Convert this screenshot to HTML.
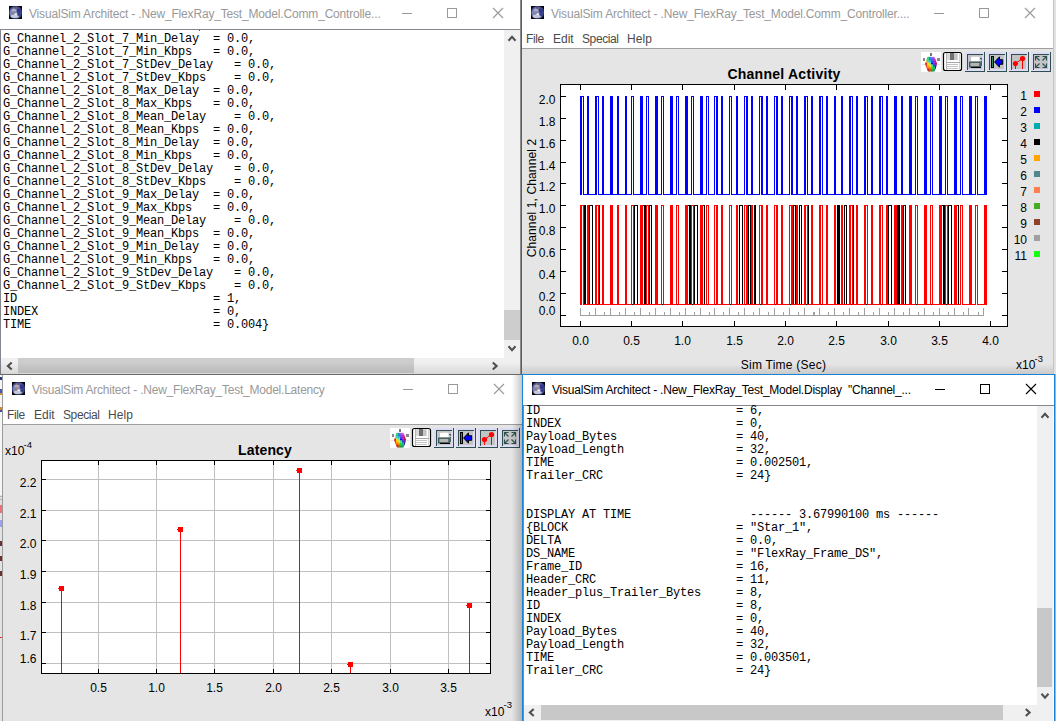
<!DOCTYPE html>
<html><head><meta charset="utf-8"><title>VisualSim</title>
<style>
html,body{margin:0;padding:0}
body{width:1056px;height:721px;overflow:hidden;position:relative;background:#e5e5e5;font-family:"Liberation Sans",sans-serif;}
.a{position:absolute}
.tt{position:absolute;font-size:12px;line-height:16px;white-space:pre;color:#999}
.mn{position:absolute;font-size:12px;line-height:16px;white-space:pre;color:#4a4a4a}
pre{position:absolute;margin:0;font-family:"Liberation Mono",monospace;font-size:12px;line-height:13px;letter-spacing:-0.2px;color:#000;white-space:pre;overflow:hidden}
svg{position:absolute;left:0;top:0}
svg text{font-family:"Liberation Sans",sans-serif;font-size:12px;fill:#000}
</style></head><body>

<div class="a" style="left:0px;top:375px;width:3px;height:120px;background:#f6f6f6;"></div>
<div class="a" style="left:0px;top:495px;width:3px;height:226px;background:#e2e2e2;"></div>
<div class="a" style="left:2px;top:375px;width:1px;height:346px;background:#9a9a9a;"></div>
<div class="a" style="left:0px;top:377px;width:2px;height:3px;background:#223a8a;"></div>
<div class="a" style="left:0px;top:389px;width:2px;height:4px;background:#4458b0;"></div>
<div class="a" style="left:0px;top:393px;width:2px;height:2px;background:#d89030;"></div>
<div class="a" style="left:0px;top:407px;width:2px;height:3px;background:#d08828;"></div>
<div class="a" style="left:0px;top:410px;width:2px;height:2px;background:#3a50a8;"></div>
<div class="a" style="left:0px;top:496px;width:2px;height:1px;background:#b0b0b0;"></div>
<div class="a" style="left:0px;top:499px;width:2px;height:1px;background:#b0b0b0;"></div>
<div class="a" style="left:0px;top:505px;width:2px;height:8px;background:#ee7070;"></div>
<div class="a" style="left:0px;top:520px;width:2px;height:7px;background:#9aa0f4;"></div>
<div class="a" style="left:0px;top:541px;width:2px;height:5px;background:#6a3030;"></div>
<div class="a" style="left:0px;top:556px;width:2px;height:5px;background:#6a3030;"></div>
<div class="a" style="left:0px;top:571px;width:2px;height:5px;background:#6a3030;"></div>
<div class="a" style="left:0px;top:637px;width:2px;height:1px;background:#ff2020;"></div>
<div class="a" style="left:1053px;top:0px;width:1px;height:374px;background:#c4c4c4;"></div>
<div class="a" style="left:1054px;top:0px;width:2px;height:374px;background:#e2e2e2;"></div>
<div class="a" style="left:0px;top:0px;width:520px;height:29px;background:#fff;"></div>
<div class="a" style="left:0px;top:29px;width:520px;height:345px;background:#fff;"></div>
<div class="a" style="left:0px;top:29px;width:520px;height:1px;background:#828790;"></div>
<div class="a" style="left:0px;top:29px;width:1px;height:345px;background:#828790;"></div>
<div class="a" style="left:504px;top:30px;width:16px;height:328px;background:#f0f0f0;"></div>
<div class="a" style="left:504px;top:310px;width:16px;height:30px;background:#cdcdcd;"></div>
<div class="a" style="left:1px;top:358px;width:519px;height:16px;background:#f0f0f0;"></div>
<div class="a" style="left:18px;top:358px;width:396px;height:15px;background:#cdcdcd;"></div>
<div class="a" style="left:520px;top:0px;width:1px;height:375px;background:#8a8a8a;"></div>
<div class="a" style="left:521px;top:0px;width:1px;height:375px;background:#5c5c5c;"></div>
<div class="a" style="left:0px;top:374px;width:522px;height:1px;background:#6a6a6a;"></div>
<div class="a" style="left:522px;top:0px;width:531px;height:48px;background:#fff;"></div>
<div class="a" style="left:522px;top:48px;width:531px;height:1px;background:#a0a0a0;"></div>
<div class="a" style="left:522px;top:49px;width:531px;height:325px;background:#e5e5e5;"></div>
<div class="a" style="left:3px;top:375px;width:519px;height:49px;background:#fff;"></div>
<div class="a" style="left:3px;top:424px;width:519px;height:1px;background:#a0a0a0;"></div>
<div class="a" style="left:3px;top:425px;width:519px;height:296px;background:#e5e5e5;"></div>
<div class="a" style="left:522px;top:374px;width:533px;height:347px;background:#fff;"></div>
<div class="a" style="left:522px;top:374px;width:533px;height:1px;background:#1883d7;"></div>
<div class="a" style="left:522px;top:374px;width:1px;height:347px;background:#1883d7;"></div>
<div class="a" style="left:1054px;top:374px;width:1px;height:347px;background:#1883d7;"></div>
<div class="a" style="left:1055px;top:374px;width:1px;height:347px;background:#9fb4c8;"></div>
<div class="a" style="left:523px;top:405px;width:531px;height:1px;background:#828790;"></div>
<div class="a" style="left:523px;top:405px;width:1px;height:316px;background:#828790;"></div>
<div class="a" style="left:1037px;top:406px;width:16px;height:299px;background:#f0f0f0;"></div>
<div class="a" style="left:1037px;top:608px;width:15px;height:79px;background:#c8c8c8;"></div>
<div class="a" style="left:524px;top:705px;width:529px;height:16px;background:#f0f0f0;"></div>
<div class="a" style="left:541px;top:705px;width:462px;height:15px;background:#c8c8c8;"></div>
<div id="t1" class="tt" style="left:29px;top:6px;letter-spacing:-0.175px;">VisualSim Architect - .New_FlexRay_Test_Model.Comm_Controlle...</div>
<div id="t2" class="tt" style="left:551px;top:6px;letter-spacing:-0.167px;">VisualSim Architect - .New_FlexRay_Test_Model.Comm_Controller....</div>
<div id="t3" class="tt" style="left:32px;top:382px;letter-spacing:-0.226px;">VisualSim Architect - .New_FlexRay_Test_Model.Latency</div>
<div id="t4" class="tt" style="left:552px;top:382px;letter-spacing:-0.23px;color:#000">VisualSim Architect - .New_FlexRay_Test_Model.Display  "Channel_...</div>
<div id="m2a" class="mn" style="left:526px;top:31px;letter-spacing:-0.35px;">File</div>
<div id="m2b" class="mn" style="left:553px;top:31px;">Edit</div>
<div id="m2c" class="mn" style="left:582px;top:31px;letter-spacing:-0.4px;">Special</div>
<div id="m2d" class="mn" style="left:627px;top:31px;letter-spacing:0.05px;">Help</div>
<div id="m3a" class="mn" style="left:7px;top:407px;letter-spacing:-0.35px;">File</div>
<div id="m3b" class="mn" style="left:34px;top:407px;">Edit</div>
<div id="m3c" class="mn" style="left:63px;top:407px;letter-spacing:-0.4px;">Special</div>
<div id="m3d" class="mn" style="left:108px;top:407px;letter-spacing:0.05px;">Help</div>
<pre style="left:3px;top:33.3px;width:500px;height:326px">G_Channel_2_Slot_7_Min_Delay  = 0.0,
G_Channel_2_Slot_7_Min_Kbps   = 0.0,
G_Channel_2_Slot_7_StDev_Delay   = 0.0,
G_Channel_2_Slot_7_StDev_Kbps    = 0.0,
G_Channel_2_Slot_8_Max_Delay  = 0.0,
G_Channel_2_Slot_8_Max_Kbps   = 0.0,
G_Channel_2_Slot_8_Mean_Delay    = 0.0,
G_Channel_2_Slot_8_Mean_Kbps  = 0.0,
G_Channel_2_Slot_8_Min_Delay  = 0.0,
G_Channel_2_Slot_8_Min_Kbps   = 0.0,
G_Channel_2_Slot_8_StDev_Delay   = 0.0,
G_Channel_2_Slot_8_StDev_Kbps    = 0.0,
G_Channel_2_Slot_9_Max_Delay  = 0.0,
G_Channel_2_Slot_9_Max_Kbps   = 0.0,
G_Channel_2_Slot_9_Mean_Delay    = 0.0,
G_Channel_2_Slot_9_Mean_Kbps  = 0.0,
G_Channel_2_Slot_9_Min_Delay  = 0.0,
G_Channel_2_Slot_9_Min_Kbps   = 0.0,
G_Channel_2_Slot_9_StDev_Delay   = 0.0,
G_Channel_2_Slot_9_StDev_Kbps    = 0.0,
ID                            = 1,
INDEX                         = 0,
TIME                          = 0.004}</pre>
<div class="a" style="left:199px;top:30px;width:1px;height:1px;background:#555;"></div>
<pre style="left:526px;top:405.3px;width:510px;height:299px">ID                            = 6,
INDEX                         = 0,
Payload_Bytes                 = 40,
Payload_Length                = 32,
TIME                          = 0.002501,
Trailer_CRC                   = 24}


DISPLAY AT TIME                 ------ 3.67990100 ms ------
{BLOCK                        = "Star_1",
DELTA                         = 0.0,
DS_NAME                       = "FlexRay_Frame_DS",
Frame_ID                      = 16,
Header_CRC                    = 11,
Header_plus_Trailer_Bytes     = 8,
ID                            = 8,
INDEX                         = 0,
Payload_Bytes                 = 40,
Payload_Length                = 32,
TIME                          = 0.003501,
Trailer_CRC                   = 24}</pre>
<svg width="1056" height="721" viewBox="0 0 1056 721" shape-rendering="crispEdges">
<defs><radialGradient id="eg" cx="0.45" cy="0.45" r="0.6"><stop offset="0" stop-color="#5a64a8"/><stop offset="0.7" stop-color="#4a5298"/><stop offset="1" stop-color="#3a4284"/></radialGradient></defs>
<rect x="9" y="6" width="13" height="13" fill="#050508"/>
<g shape-rendering="auto"><rect x="9.2" y="6.2" width="12.6" height="12.6" rx="5.4" ry="5.4" fill="url(#eg)"/><ellipse cx="13.8" cy="13.2" rx="4" ry="4.6" fill="#a4aac2" opacity="0.55"/><ellipse cx="14.8" cy="16.3" rx="4.2" ry="1.8" fill="#cdd1dc" opacity="0.9"/><ellipse cx="14" cy="10.2" rx="2.8" ry="1.2" fill="#b4b8cc" opacity="0.75"/><ellipse cx="15.8" cy="14.2" rx="1.3" ry="0.9" fill="#f4f6fa"/><ellipse cx="18.8" cy="10.8" rx="2.2" ry="2.2" fill="#2a3080" opacity="0.8"/><ellipse cx="19" cy="14.6" rx="1.8" ry="1.6" fill="#2e3688" opacity="0.7"/><circle cx="13.4" cy="8.2" r="0.8" fill="#c88850" opacity="0.9"/><circle cx="16.4" cy="8" r="0.6" fill="#b06858" opacity="0.9"/><circle cx="13.4" cy="12.4" r="0.8" fill="#d07838" opacity="0.9"/></g>
<rect x="531" y="6" width="13" height="13" fill="#050508"/>
<g shape-rendering="auto"><rect x="531.2" y="6.2" width="12.6" height="12.6" rx="5.4" ry="5.4" fill="url(#eg)"/><ellipse cx="535.8" cy="13.2" rx="4" ry="4.6" fill="#a4aac2" opacity="0.55"/><ellipse cx="536.8" cy="16.3" rx="4.2" ry="1.8" fill="#cdd1dc" opacity="0.9"/><ellipse cx="536" cy="10.2" rx="2.8" ry="1.2" fill="#b4b8cc" opacity="0.75"/><ellipse cx="537.8" cy="14.2" rx="1.3" ry="0.9" fill="#f4f6fa"/><ellipse cx="540.8" cy="10.8" rx="2.2" ry="2.2" fill="#2a3080" opacity="0.8"/><ellipse cx="541" cy="14.6" rx="1.8" ry="1.6" fill="#2e3688" opacity="0.7"/><circle cx="535.4" cy="8.2" r="0.8" fill="#c88850" opacity="0.9"/><circle cx="538.4" cy="8" r="0.6" fill="#b06858" opacity="0.9"/><circle cx="535.4" cy="12.4" r="0.8" fill="#d07838" opacity="0.9"/></g>
<rect x="12" y="382" width="13" height="13" fill="#050508"/>
<g shape-rendering="auto"><rect x="12.2" y="382.2" width="12.6" height="12.6" rx="5.4" ry="5.4" fill="url(#eg)"/><ellipse cx="16.8" cy="389.2" rx="4" ry="4.6" fill="#a4aac2" opacity="0.55"/><ellipse cx="17.8" cy="392.3" rx="4.2" ry="1.8" fill="#cdd1dc" opacity="0.9"/><ellipse cx="17" cy="386.2" rx="2.8" ry="1.2" fill="#b4b8cc" opacity="0.75"/><ellipse cx="18.8" cy="390.2" rx="1.3" ry="0.9" fill="#f4f6fa"/><ellipse cx="21.8" cy="386.8" rx="2.2" ry="2.2" fill="#2a3080" opacity="0.8"/><ellipse cx="22" cy="390.6" rx="1.8" ry="1.6" fill="#2e3688" opacity="0.7"/><circle cx="16.4" cy="384.2" r="0.8" fill="#c88850" opacity="0.9"/><circle cx="19.4" cy="384" r="0.6" fill="#b06858" opacity="0.9"/><circle cx="16.4" cy="388.4" r="0.8" fill="#d07838" opacity="0.9"/></g>
<rect x="532" y="382" width="13" height="13" fill="#050508"/>
<g shape-rendering="auto"><rect x="532.2" y="382.2" width="12.6" height="12.6" rx="5.4" ry="5.4" fill="url(#eg)"/><ellipse cx="536.8" cy="389.2" rx="4" ry="4.6" fill="#a4aac2" opacity="0.55"/><ellipse cx="537.8" cy="392.3" rx="4.2" ry="1.8" fill="#cdd1dc" opacity="0.9"/><ellipse cx="537" cy="386.2" rx="2.8" ry="1.2" fill="#b4b8cc" opacity="0.75"/><ellipse cx="538.8" cy="390.2" rx="1.3" ry="0.9" fill="#f4f6fa"/><ellipse cx="541.8" cy="386.8" rx="2.2" ry="2.2" fill="#2a3080" opacity="0.8"/><ellipse cx="542" cy="390.6" rx="1.8" ry="1.6" fill="#2e3688" opacity="0.7"/><circle cx="536.4" cy="384.2" r="0.8" fill="#c88850" opacity="0.9"/><circle cx="539.4" cy="384" r="0.6" fill="#b06858" opacity="0.9"/><circle cx="536.4" cy="388.4" r="0.8" fill="#d07838" opacity="0.9"/></g>
<rect x="402" y="13" width="10" height="1" fill="#999"/>
<rect x="447.5" y="8.5" width="9" height="9" fill="none" stroke="#999" stroke-width="1"/>
<path d="M493,8 l10,10 M503,8 l-10,10" stroke="#999" stroke-width="1.1" fill="none" shape-rendering="auto"/>
<rect x="934" y="13" width="10" height="1" fill="#999"/>
<rect x="979.5" y="8.5" width="9" height="9" fill="none" stroke="#999" stroke-width="1"/>
<path d="M1025,8 l10,10 M1035,8 l-10,10" stroke="#999" stroke-width="1.1" fill="none" shape-rendering="auto"/>
<rect x="403" y="389" width="10" height="1" fill="#999"/>
<rect x="448.5" y="384.5" width="9" height="9" fill="none" stroke="#999" stroke-width="1"/>
<path d="M494,384 l10,10 M504,384 l-10,10" stroke="#999" stroke-width="1.1" fill="none" shape-rendering="auto"/>
<rect x="935" y="389" width="10" height="1" fill="#000"/>
<rect x="980.5" y="384.5" width="9" height="9" fill="none" stroke="#000" stroke-width="1"/>
<path d="M1026,384 l10,10 M1036,384 l-10,10" stroke="#000" stroke-width="1.1" fill="none" shape-rendering="auto"/>
<path d="M508.5,40.7 L512,36.9 L515.5,40.7" stroke="#505050" stroke-width="2.1" fill="none" shape-rendering="auto"/>
<path d="M508.5,346.3 L512,350.1 L515.5,346.3" stroke="#505050" stroke-width="2.1" fill="none" shape-rendering="auto"/>
<path d="M11.7,362.5 L7.9,366 L11.7,369.5" stroke="#505050" stroke-width="2.1" fill="none" shape-rendering="auto"/>
<path d="M492.8,362.5 L496.6,366 L492.8,369.5" stroke="#505050" stroke-width="2.1" fill="none" shape-rendering="auto"/>
<path d="M1041.5,417.7 L1045,413.9 L1048.5,417.7" stroke="#505050" stroke-width="2.1" fill="none" shape-rendering="auto"/>
<path d="M1041.5,693.8 L1045,697.6 L1048.5,693.8" stroke="#505050" stroke-width="2.1" fill="none" shape-rendering="auto"/>
<path d="M533.7,709.0 L529.9,712.5 L533.7,716.0" stroke="#505050" stroke-width="2.1" fill="none" shape-rendering="auto"/>
<path d="M1025.8,709.0 L1029.6,712.5 L1025.8,716.0" stroke="#505050" stroke-width="2.1" fill="none" shape-rendering="auto"/>
<rect x="560" y="84" width="448" height="243" fill="#fff"/>
<rect x="560" y="84" width="448" height="1" fill="#000"/>
<rect x="560" y="326" width="448" height="1" fill="#000"/>
<rect x="560" y="84" width="1" height="243" fill="#000"/>
<rect x="1007" y="84" width="1" height="243" fill="#000"/>
<rect x="580" y="84" width="1" height="6" fill="#000"/>
<rect x="580" y="321" width="1" height="6" fill="#000"/>
<text x="580.5" y="344.5" text-anchor="middle">0.0</text>
<rect x="631" y="84" width="1" height="6" fill="#000"/>
<rect x="631" y="321" width="1" height="6" fill="#000"/>
<text x="631.5" y="344.5" text-anchor="middle">0.5</text>
<rect x="682" y="84" width="1" height="6" fill="#000"/>
<rect x="682" y="321" width="1" height="6" fill="#000"/>
<text x="682.5" y="344.5" text-anchor="middle">1.0</text>
<rect x="734" y="84" width="1" height="6" fill="#000"/>
<rect x="734" y="321" width="1" height="6" fill="#000"/>
<text x="734.5" y="344.5" text-anchor="middle">1.5</text>
<rect x="785" y="84" width="1" height="6" fill="#000"/>
<rect x="785" y="321" width="1" height="6" fill="#000"/>
<text x="785.5" y="344.5" text-anchor="middle">2.0</text>
<rect x="836" y="84" width="1" height="6" fill="#000"/>
<rect x="836" y="321" width="1" height="6" fill="#000"/>
<text x="836.5" y="344.5" text-anchor="middle">2.5</text>
<rect x="888" y="84" width="1" height="6" fill="#000"/>
<rect x="888" y="321" width="1" height="6" fill="#000"/>
<text x="888.5" y="344.5" text-anchor="middle">3.0</text>
<rect x="939" y="84" width="1" height="6" fill="#000"/>
<rect x="939" y="321" width="1" height="6" fill="#000"/>
<text x="939.5" y="344.5" text-anchor="middle">3.5</text>
<rect x="990" y="84" width="1" height="6" fill="#000"/>
<rect x="990" y="321" width="1" height="6" fill="#000"/>
<text x="990.5" y="344.5" text-anchor="middle">4.0</text>
<rect x="560" y="315" width="6" height="1" fill="#000"/>
<rect x="1002" y="315" width="6" height="1" fill="#000"/>
<text x="555.5" y="314.5" text-anchor="end">0.0</text>
<rect x="560" y="293" width="6" height="1" fill="#000"/>
<rect x="1002" y="293" width="6" height="1" fill="#000"/>
<text x="555.5" y="300.5" text-anchor="end">0.2</text>
<rect x="560" y="271" width="6" height="1" fill="#000"/>
<rect x="1002" y="271" width="6" height="1" fill="#000"/>
<text x="555.5" y="278.5" text-anchor="end">0.4</text>
<rect x="560" y="249" width="6" height="1" fill="#000"/>
<rect x="1002" y="249" width="6" height="1" fill="#000"/>
<text x="555.5" y="256.5" text-anchor="end">0.6</text>
<rect x="560" y="227" width="6" height="1" fill="#000"/>
<rect x="1002" y="227" width="6" height="1" fill="#000"/>
<text x="555.5" y="234.5" text-anchor="end">0.8</text>
<rect x="560" y="205" width="6" height="1" fill="#000"/>
<rect x="1002" y="205" width="6" height="1" fill="#000"/>
<text x="555.5" y="212.5" text-anchor="end">1.0</text>
<rect x="560" y="183" width="6" height="1" fill="#000"/>
<rect x="1002" y="183" width="6" height="1" fill="#000"/>
<text x="555.5" y="190.5" text-anchor="end">1.2</text>
<rect x="560" y="162" width="6" height="1" fill="#000"/>
<rect x="1002" y="162" width="6" height="1" fill="#000"/>
<text x="555.5" y="169.5" text-anchor="end">1.4</text>
<rect x="560" y="140" width="6" height="1" fill="#000"/>
<rect x="1002" y="140" width="6" height="1" fill="#000"/>
<text x="555.5" y="147.5" text-anchor="end">1.6</text>
<rect x="560" y="118" width="6" height="1" fill="#000"/>
<rect x="1002" y="118" width="6" height="1" fill="#000"/>
<text x="555.5" y="125.5" text-anchor="end">1.8</text>
<rect x="560" y="96" width="6" height="1" fill="#000"/>
<rect x="1002" y="96" width="6" height="1" fill="#000"/>
<text x="555.5" y="103.5" text-anchor="end">2.0</text>
<text x="784" y="79" text-anchor="middle" style="font-size:14px;font-weight:bold;letter-spacing:0.25px">Channel Activity</text>
<text x="783.5" y="369" text-anchor="middle" style="letter-spacing:0.25px">Sim Time (Sec)</text>
<text x="1016" y="369">x10</text><text x="1034.5" y="361.5" style="font-size:9.5px">-3</text>
<text transform="translate(535.5,198) rotate(-90)" text-anchor="middle" style="letter-spacing:0.13px">Channel 1, Channel 2</text>
<rect x="1034" y="91" width="6" height="6" fill="#ff0000"/>
<text x="1027" y="99.5" text-anchor="end">1</text>
<rect x="1034" y="107" width="6" height="6" fill="#0000ff"/>
<text x="1027" y="115.5" text-anchor="end">2</text>
<rect x="1034" y="123" width="6" height="6" fill="#00aaaa"/>
<text x="1027" y="131.5" text-anchor="end">3</text>
<rect x="1034" y="139" width="6" height="6" fill="#000000"/>
<text x="1027" y="147.5" text-anchor="end">4</text>
<rect x="1034" y="155" width="6" height="6" fill="#ffa500"/>
<text x="1027" y="163.5" text-anchor="end">5</text>
<rect x="1034" y="171" width="6" height="6" fill="#53868b"/>
<text x="1027" y="179.5" text-anchor="end">6</text>
<rect x="1034" y="187" width="6" height="6" fill="#ff7f50"/>
<text x="1027" y="195.5" text-anchor="end">7</text>
<rect x="1034" y="203" width="6" height="6" fill="#45ab1f"/>
<text x="1027" y="211.5" text-anchor="end">8</text>
<rect x="1034" y="219" width="6" height="6" fill="#90422d"/>
<text x="1027" y="227.5" text-anchor="end">9</text>
<rect x="1034" y="235" width="6" height="6" fill="#a0a0a0"/>
<text x="1027" y="243.5" text-anchor="end">10</text>
<rect x="1034" y="251" width="6" height="6" fill="#14ff14"/>
<text x="1027" y="259.5" text-anchor="end">11</text>
<rect x="584" y="304" width="375" height="1" fill="#000"/>
<rect x="584" y="205" width="2" height="1" fill="#000"/>
<rect x="584" y="205" width="1" height="100" fill="#000"/>
<rect x="585" y="205" width="1" height="100" fill="#000"/>
<rect x="589" y="205" width="4" height="1" fill="#000"/>
<rect x="589" y="205" width="1" height="100" fill="#000"/>
<rect x="592" y="205" width="1" height="100" fill="#000"/>
<rect x="598" y="205" width="2" height="1" fill="#000"/>
<rect x="599" y="205" width="1" height="100" fill="#000"/>
<rect x="634" y="205" width="4" height="1" fill="#000"/>
<rect x="634" y="205" width="1" height="100" fill="#000"/>
<rect x="637" y="205" width="1" height="100" fill="#000"/>
<rect x="643" y="205" width="3" height="1" fill="#000"/>
<rect x="644" y="205" width="1" height="100" fill="#000"/>
<rect x="645" y="205" width="1" height="100" fill="#000"/>
<rect x="649" y="205" width="3" height="1" fill="#000"/>
<rect x="649" y="205" width="1" height="100" fill="#000"/>
<rect x="651" y="205" width="1" height="100" fill="#000"/>
<rect x="688" y="205" width="3" height="1" fill="#000"/>
<rect x="689" y="205" width="1" height="100" fill="#000"/>
<rect x="690" y="205" width="1" height="100" fill="#000"/>
<rect x="694" y="205" width="4" height="1" fill="#000"/>
<rect x="694" y="205" width="1" height="100" fill="#000"/>
<rect x="697" y="205" width="1" height="100" fill="#000"/>
<rect x="703" y="205" width="2" height="1" fill="#000"/>
<rect x="704" y="205" width="1" height="100" fill="#000"/>
<rect x="739" y="205" width="4" height="1" fill="#000"/>
<rect x="739" y="205" width="1" height="100" fill="#000"/>
<rect x="742" y="205" width="1" height="100" fill="#000"/>
<rect x="748" y="205" width="3" height="1" fill="#000"/>
<rect x="748" y="205" width="1" height="100" fill="#000"/>
<rect x="750" y="205" width="1" height="100" fill="#000"/>
<rect x="754" y="205" width="2" height="1" fill="#000"/>
<rect x="754" y="205" width="1" height="100" fill="#000"/>
<rect x="755" y="205" width="1" height="100" fill="#000"/>
<rect x="793" y="205" width="3" height="1" fill="#000"/>
<rect x="793" y="205" width="1" height="100" fill="#000"/>
<rect x="795" y="205" width="1" height="100" fill="#000"/>
<rect x="799" y="205" width="3" height="1" fill="#000"/>
<rect x="799" y="205" width="1" height="100" fill="#000"/>
<rect x="801" y="205" width="1" height="100" fill="#000"/>
<rect x="807" y="205" width="2" height="1" fill="#000"/>
<rect x="808" y="205" width="1" height="100" fill="#000"/>
<rect x="837" y="205" width="3" height="1" fill="#000"/>
<rect x="837" y="205" width="1" height="100" fill="#000"/>
<rect x="838" y="205" width="1" height="100" fill="#000"/>
<rect x="839" y="205" width="1" height="100" fill="#000"/>
<rect x="844" y="205" width="3" height="1" fill="#000"/>
<rect x="844" y="205" width="1" height="100" fill="#000"/>
<rect x="846" y="205" width="1" height="100" fill="#000"/>
<rect x="852" y="205" width="2" height="1" fill="#000"/>
<rect x="853" y="205" width="1" height="100" fill="#000"/>
<rect x="888" y="205" width="4" height="1" fill="#000"/>
<rect x="888" y="205" width="1" height="100" fill="#000"/>
<rect x="891" y="205" width="1" height="100" fill="#000"/>
<rect x="897" y="205" width="3" height="1" fill="#000"/>
<rect x="897" y="205" width="1" height="100" fill="#000"/>
<rect x="898" y="205" width="1" height="100" fill="#000"/>
<rect x="899" y="205" width="1" height="100" fill="#000"/>
<rect x="903" y="205" width="3" height="1" fill="#000"/>
<rect x="903" y="205" width="1" height="100" fill="#000"/>
<rect x="905" y="205" width="1" height="100" fill="#000"/>
<rect x="942" y="205" width="3" height="1" fill="#000"/>
<rect x="943" y="205" width="1" height="100" fill="#000"/>
<rect x="944" y="205" width="1" height="100" fill="#000"/>
<rect x="948" y="205" width="4" height="1" fill="#000"/>
<rect x="948" y="205" width="1" height="100" fill="#000"/>
<rect x="951" y="205" width="1" height="100" fill="#000"/>
<rect x="957" y="205" width="2" height="1" fill="#000"/>
<rect x="958" y="205" width="1" height="100" fill="#000"/>
<rect x="580" y="304" width="2" height="1" fill="#ff0000"/>
<rect x="583" y="304" width="14" height="1" fill="#ff0000"/>
<rect x="598" y="304" width="34" height="1" fill="#ff0000"/>
<rect x="633" y="304" width="14" height="1" fill="#ff0000"/>
<rect x="648" y="304" width="14" height="1" fill="#ff0000"/>
<rect x="663" y="304" width="14" height="1" fill="#ff0000"/>
<rect x="678" y="304" width="14" height="1" fill="#ff0000"/>
<rect x="693" y="304" width="14" height="1" fill="#ff0000"/>
<rect x="708" y="304" width="7" height="1" fill="#ff0000"/>
<rect x="716" y="304" width="14" height="1" fill="#ff0000"/>
<rect x="731" y="304" width="14" height="1" fill="#ff0000"/>
<rect x="746" y="304" width="14" height="1" fill="#ff0000"/>
<rect x="761" y="304" width="14" height="1" fill="#ff0000"/>
<rect x="776" y="304" width="14" height="1" fill="#ff0000"/>
<rect x="791" y="304" width="15" height="1" fill="#ff0000"/>
<rect x="807" y="304" width="14" height="1" fill="#ff0000"/>
<rect x="822" y="304" width="29" height="1" fill="#ff0000"/>
<rect x="852" y="304" width="14" height="1" fill="#ff0000"/>
<rect x="867" y="304" width="14" height="1" fill="#ff0000"/>
<rect x="882" y="304" width="34" height="1" fill="#ff0000"/>
<rect x="917" y="304" width="14" height="1" fill="#ff0000"/>
<rect x="932" y="304" width="14" height="1" fill="#ff0000"/>
<rect x="947" y="304" width="14" height="1" fill="#ff0000"/>
<rect x="962" y="304" width="14" height="1" fill="#ff0000"/>
<rect x="977" y="304" width="10" height="1" fill="#ff0000"/>
<rect x="580" y="205" width="4" height="1" fill="#ff0000"/>
<rect x="580" y="205" width="2" height="100" fill="#ff0000"/>
<rect x="583" y="205" width="1" height="100" fill="#ff0000"/>
<rect x="587" y="205" width="2" height="1" fill="#ff0000"/>
<rect x="587" y="205" width="2" height="100" fill="#ff0000"/>
<rect x="595" y="205" width="4" height="1" fill="#ff0000"/>
<rect x="595" y="205" width="2" height="100" fill="#ff0000"/>
<rect x="598" y="205" width="1" height="100" fill="#ff0000"/>
<rect x="602" y="205" width="2" height="1" fill="#ff0000"/>
<rect x="602" y="205" width="2" height="100" fill="#ff0000"/>
<rect x="610" y="205" width="3" height="1" fill="#ff0000"/>
<rect x="610" y="205" width="3" height="100" fill="#ff0000"/>
<rect x="617" y="205" width="2" height="1" fill="#ff0000"/>
<rect x="617" y="205" width="2" height="100" fill="#ff0000"/>
<rect x="625" y="205" width="2" height="1" fill="#ff0000"/>
<rect x="625" y="205" width="2" height="100" fill="#ff0000"/>
<rect x="631" y="205" width="3" height="1" fill="#ff0000"/>
<rect x="631" y="205" width="1" height="100" fill="#ff0000"/>
<rect x="633" y="205" width="1" height="100" fill="#ff0000"/>
<rect x="640" y="205" width="3" height="1" fill="#ff0000"/>
<rect x="640" y="205" width="3" height="100" fill="#ff0000"/>
<rect x="646" y="205" width="3" height="1" fill="#ff0000"/>
<rect x="646" y="205" width="1" height="100" fill="#ff0000"/>
<rect x="648" y="205" width="1" height="100" fill="#ff0000"/>
<rect x="655" y="205" width="3" height="1" fill="#ff0000"/>
<rect x="655" y="205" width="3" height="100" fill="#ff0000"/>
<rect x="661" y="205" width="3" height="1" fill="#ff0000"/>
<rect x="661" y="205" width="1" height="100" fill="#ff0000"/>
<rect x="663" y="205" width="1" height="100" fill="#ff0000"/>
<rect x="670" y="205" width="3" height="1" fill="#ff0000"/>
<rect x="670" y="205" width="3" height="100" fill="#ff0000"/>
<rect x="676" y="205" width="3" height="1" fill="#ff0000"/>
<rect x="676" y="205" width="1" height="100" fill="#ff0000"/>
<rect x="678" y="205" width="1" height="100" fill="#ff0000"/>
<rect x="685" y="205" width="3" height="1" fill="#ff0000"/>
<rect x="685" y="205" width="3" height="100" fill="#ff0000"/>
<rect x="691" y="205" width="3" height="1" fill="#ff0000"/>
<rect x="691" y="205" width="1" height="100" fill="#ff0000"/>
<rect x="693" y="205" width="1" height="100" fill="#ff0000"/>
<rect x="700" y="205" width="3" height="1" fill="#ff0000"/>
<rect x="700" y="205" width="3" height="100" fill="#ff0000"/>
<rect x="706" y="205" width="3" height="1" fill="#ff0000"/>
<rect x="706" y="205" width="1" height="100" fill="#ff0000"/>
<rect x="708" y="205" width="1" height="100" fill="#ff0000"/>
<rect x="714" y="205" width="4" height="1" fill="#ff0000"/>
<rect x="714" y="205" width="1" height="100" fill="#ff0000"/>
<rect x="716" y="205" width="2" height="100" fill="#ff0000"/>
<rect x="721" y="205" width="2" height="1" fill="#ff0000"/>
<rect x="721" y="205" width="2" height="100" fill="#ff0000"/>
<rect x="729" y="205" width="3" height="1" fill="#ff0000"/>
<rect x="729" y="205" width="1" height="100" fill="#ff0000"/>
<rect x="731" y="205" width="1" height="100" fill="#ff0000"/>
<rect x="736" y="205" width="2" height="1" fill="#ff0000"/>
<rect x="736" y="205" width="2" height="100" fill="#ff0000"/>
<rect x="744" y="205" width="4" height="1" fill="#ff0000"/>
<rect x="744" y="205" width="1" height="100" fill="#ff0000"/>
<rect x="746" y="205" width="2" height="100" fill="#ff0000"/>
<rect x="751" y="205" width="2" height="1" fill="#ff0000"/>
<rect x="751" y="205" width="2" height="100" fill="#ff0000"/>
<rect x="759" y="205" width="4" height="1" fill="#ff0000"/>
<rect x="759" y="205" width="1" height="100" fill="#ff0000"/>
<rect x="761" y="205" width="2" height="100" fill="#ff0000"/>
<rect x="766" y="205" width="2" height="1" fill="#ff0000"/>
<rect x="766" y="205" width="2" height="100" fill="#ff0000"/>
<rect x="774" y="205" width="4" height="1" fill="#ff0000"/>
<rect x="774" y="205" width="1" height="100" fill="#ff0000"/>
<rect x="776" y="205" width="2" height="100" fill="#ff0000"/>
<rect x="781" y="205" width="2" height="1" fill="#ff0000"/>
<rect x="781" y="205" width="2" height="100" fill="#ff0000"/>
<rect x="789" y="205" width="4" height="1" fill="#ff0000"/>
<rect x="789" y="205" width="1" height="100" fill="#ff0000"/>
<rect x="791" y="205" width="2" height="100" fill="#ff0000"/>
<rect x="796" y="205" width="2" height="1" fill="#ff0000"/>
<rect x="796" y="205" width="2" height="100" fill="#ff0000"/>
<rect x="804" y="205" width="4" height="1" fill="#ff0000"/>
<rect x="804" y="205" width="2" height="100" fill="#ff0000"/>
<rect x="807" y="205" width="1" height="100" fill="#ff0000"/>
<rect x="811" y="205" width="2" height="1" fill="#ff0000"/>
<rect x="811" y="205" width="2" height="100" fill="#ff0000"/>
<rect x="819" y="205" width="4" height="1" fill="#ff0000"/>
<rect x="819" y="205" width="2" height="100" fill="#ff0000"/>
<rect x="822" y="205" width="1" height="100" fill="#ff0000"/>
<rect x="826" y="205" width="2" height="1" fill="#ff0000"/>
<rect x="826" y="205" width="2" height="100" fill="#ff0000"/>
<rect x="834" y="205" width="2" height="1" fill="#ff0000"/>
<rect x="834" y="205" width="2" height="100" fill="#ff0000"/>
<rect x="841" y="205" width="2" height="1" fill="#ff0000"/>
<rect x="841" y="205" width="2" height="100" fill="#ff0000"/>
<rect x="849" y="205" width="4" height="1" fill="#ff0000"/>
<rect x="849" y="205" width="2" height="100" fill="#ff0000"/>
<rect x="852" y="205" width="1" height="100" fill="#ff0000"/>
<rect x="856" y="205" width="2" height="1" fill="#ff0000"/>
<rect x="856" y="205" width="2" height="100" fill="#ff0000"/>
<rect x="864" y="205" width="4" height="1" fill="#ff0000"/>
<rect x="864" y="205" width="2" height="100" fill="#ff0000"/>
<rect x="867" y="205" width="1" height="100" fill="#ff0000"/>
<rect x="871" y="205" width="2" height="1" fill="#ff0000"/>
<rect x="871" y="205" width="2" height="100" fill="#ff0000"/>
<rect x="879" y="205" width="4" height="1" fill="#ff0000"/>
<rect x="879" y="205" width="2" height="100" fill="#ff0000"/>
<rect x="882" y="205" width="1" height="100" fill="#ff0000"/>
<rect x="886" y="205" width="2" height="1" fill="#ff0000"/>
<rect x="886" y="205" width="2" height="100" fill="#ff0000"/>
<rect x="894" y="205" width="3" height="1" fill="#ff0000"/>
<rect x="894" y="205" width="3" height="100" fill="#ff0000"/>
<rect x="901" y="205" width="2" height="1" fill="#ff0000"/>
<rect x="901" y="205" width="2" height="100" fill="#ff0000"/>
<rect x="909" y="205" width="3" height="1" fill="#ff0000"/>
<rect x="909" y="205" width="3" height="100" fill="#ff0000"/>
<rect x="915" y="205" width="3" height="1" fill="#ff0000"/>
<rect x="915" y="205" width="1" height="100" fill="#ff0000"/>
<rect x="917" y="205" width="1" height="100" fill="#ff0000"/>
<rect x="924" y="205" width="3" height="1" fill="#ff0000"/>
<rect x="924" y="205" width="3" height="100" fill="#ff0000"/>
<rect x="930" y="205" width="3" height="1" fill="#ff0000"/>
<rect x="930" y="205" width="1" height="100" fill="#ff0000"/>
<rect x="932" y="205" width="1" height="100" fill="#ff0000"/>
<rect x="939" y="205" width="3" height="1" fill="#ff0000"/>
<rect x="939" y="205" width="3" height="100" fill="#ff0000"/>
<rect x="945" y="205" width="3" height="1" fill="#ff0000"/>
<rect x="945" y="205" width="1" height="100" fill="#ff0000"/>
<rect x="947" y="205" width="1" height="100" fill="#ff0000"/>
<rect x="954" y="205" width="3" height="1" fill="#ff0000"/>
<rect x="954" y="205" width="3" height="100" fill="#ff0000"/>
<rect x="960" y="205" width="3" height="1" fill="#ff0000"/>
<rect x="960" y="205" width="1" height="100" fill="#ff0000"/>
<rect x="962" y="205" width="1" height="100" fill="#ff0000"/>
<rect x="969" y="205" width="3" height="1" fill="#ff0000"/>
<rect x="969" y="205" width="3" height="100" fill="#ff0000"/>
<rect x="975" y="205" width="3" height="1" fill="#ff0000"/>
<rect x="975" y="205" width="1" height="100" fill="#ff0000"/>
<rect x="977" y="205" width="1" height="100" fill="#ff0000"/>
<rect x="984" y="205" width="3" height="1" fill="#ff0000"/>
<rect x="984" y="205" width="3" height="100" fill="#ff0000"/>
<rect x="580" y="194" width="2" height="1" fill="#0000ff"/>
<rect x="583" y="194" width="14" height="1" fill="#0000ff"/>
<rect x="598" y="194" width="34" height="1" fill="#0000ff"/>
<rect x="633" y="194" width="14" height="1" fill="#0000ff"/>
<rect x="648" y="194" width="14" height="1" fill="#0000ff"/>
<rect x="663" y="194" width="14" height="1" fill="#0000ff"/>
<rect x="678" y="194" width="14" height="1" fill="#0000ff"/>
<rect x="693" y="194" width="14" height="1" fill="#0000ff"/>
<rect x="708" y="194" width="7" height="1" fill="#0000ff"/>
<rect x="716" y="194" width="14" height="1" fill="#0000ff"/>
<rect x="731" y="194" width="14" height="1" fill="#0000ff"/>
<rect x="746" y="194" width="14" height="1" fill="#0000ff"/>
<rect x="761" y="194" width="14" height="1" fill="#0000ff"/>
<rect x="776" y="194" width="14" height="1" fill="#0000ff"/>
<rect x="791" y="194" width="15" height="1" fill="#0000ff"/>
<rect x="807" y="194" width="14" height="1" fill="#0000ff"/>
<rect x="822" y="194" width="29" height="1" fill="#0000ff"/>
<rect x="852" y="194" width="14" height="1" fill="#0000ff"/>
<rect x="867" y="194" width="14" height="1" fill="#0000ff"/>
<rect x="882" y="194" width="34" height="1" fill="#0000ff"/>
<rect x="917" y="194" width="14" height="1" fill="#0000ff"/>
<rect x="932" y="194" width="14" height="1" fill="#0000ff"/>
<rect x="947" y="194" width="14" height="1" fill="#0000ff"/>
<rect x="962" y="194" width="14" height="1" fill="#0000ff"/>
<rect x="977" y="194" width="10" height="1" fill="#0000ff"/>
<rect x="580" y="96" width="4" height="1" fill="#0000ff"/>
<rect x="580" y="96" width="2" height="99" fill="#0000ff"/>
<rect x="583" y="96" width="1" height="99" fill="#0000ff"/>
<rect x="587" y="96" width="2" height="1" fill="#0000ff"/>
<rect x="587" y="96" width="2" height="99" fill="#0000ff"/>
<rect x="595" y="96" width="4" height="1" fill="#0000ff"/>
<rect x="595" y="96" width="2" height="99" fill="#0000ff"/>
<rect x="598" y="96" width="1" height="99" fill="#0000ff"/>
<rect x="602" y="96" width="2" height="1" fill="#0000ff"/>
<rect x="602" y="96" width="2" height="99" fill="#0000ff"/>
<rect x="610" y="96" width="3" height="1" fill="#0000ff"/>
<rect x="610" y="96" width="3" height="99" fill="#0000ff"/>
<rect x="617" y="96" width="2" height="1" fill="#0000ff"/>
<rect x="617" y="96" width="2" height="99" fill="#0000ff"/>
<rect x="625" y="96" width="2" height="1" fill="#0000ff"/>
<rect x="625" y="96" width="2" height="99" fill="#0000ff"/>
<rect x="631" y="96" width="3" height="1" fill="#0000ff"/>
<rect x="631" y="96" width="1" height="99" fill="#0000ff"/>
<rect x="633" y="96" width="1" height="99" fill="#0000ff"/>
<rect x="640" y="96" width="3" height="1" fill="#0000ff"/>
<rect x="640" y="96" width="3" height="99" fill="#0000ff"/>
<rect x="646" y="96" width="3" height="1" fill="#0000ff"/>
<rect x="646" y="96" width="1" height="99" fill="#0000ff"/>
<rect x="648" y="96" width="1" height="99" fill="#0000ff"/>
<rect x="655" y="96" width="3" height="1" fill="#0000ff"/>
<rect x="655" y="96" width="3" height="99" fill="#0000ff"/>
<rect x="661" y="96" width="3" height="1" fill="#0000ff"/>
<rect x="661" y="96" width="1" height="99" fill="#0000ff"/>
<rect x="663" y="96" width="1" height="99" fill="#0000ff"/>
<rect x="670" y="96" width="3" height="1" fill="#0000ff"/>
<rect x="670" y="96" width="3" height="99" fill="#0000ff"/>
<rect x="676" y="96" width="3" height="1" fill="#0000ff"/>
<rect x="676" y="96" width="1" height="99" fill="#0000ff"/>
<rect x="678" y="96" width="1" height="99" fill="#0000ff"/>
<rect x="685" y="96" width="3" height="1" fill="#0000ff"/>
<rect x="685" y="96" width="3" height="99" fill="#0000ff"/>
<rect x="691" y="96" width="3" height="1" fill="#0000ff"/>
<rect x="691" y="96" width="1" height="99" fill="#0000ff"/>
<rect x="693" y="96" width="1" height="99" fill="#0000ff"/>
<rect x="700" y="96" width="3" height="1" fill="#0000ff"/>
<rect x="700" y="96" width="3" height="99" fill="#0000ff"/>
<rect x="706" y="96" width="3" height="1" fill="#0000ff"/>
<rect x="706" y="96" width="1" height="99" fill="#0000ff"/>
<rect x="708" y="96" width="1" height="99" fill="#0000ff"/>
<rect x="714" y="96" width="4" height="1" fill="#0000ff"/>
<rect x="714" y="96" width="1" height="99" fill="#0000ff"/>
<rect x="716" y="96" width="2" height="99" fill="#0000ff"/>
<rect x="721" y="96" width="2" height="1" fill="#0000ff"/>
<rect x="721" y="96" width="2" height="99" fill="#0000ff"/>
<rect x="729" y="96" width="3" height="1" fill="#0000ff"/>
<rect x="729" y="96" width="1" height="99" fill="#0000ff"/>
<rect x="731" y="96" width="1" height="99" fill="#0000ff"/>
<rect x="736" y="96" width="2" height="1" fill="#0000ff"/>
<rect x="736" y="96" width="2" height="99" fill="#0000ff"/>
<rect x="744" y="96" width="4" height="1" fill="#0000ff"/>
<rect x="744" y="96" width="1" height="99" fill="#0000ff"/>
<rect x="746" y="96" width="2" height="99" fill="#0000ff"/>
<rect x="751" y="96" width="2" height="1" fill="#0000ff"/>
<rect x="751" y="96" width="2" height="99" fill="#0000ff"/>
<rect x="759" y="96" width="4" height="1" fill="#0000ff"/>
<rect x="759" y="96" width="1" height="99" fill="#0000ff"/>
<rect x="761" y="96" width="2" height="99" fill="#0000ff"/>
<rect x="766" y="96" width="2" height="1" fill="#0000ff"/>
<rect x="766" y="96" width="2" height="99" fill="#0000ff"/>
<rect x="774" y="96" width="4" height="1" fill="#0000ff"/>
<rect x="774" y="96" width="1" height="99" fill="#0000ff"/>
<rect x="776" y="96" width="2" height="99" fill="#0000ff"/>
<rect x="781" y="96" width="2" height="1" fill="#0000ff"/>
<rect x="781" y="96" width="2" height="99" fill="#0000ff"/>
<rect x="789" y="96" width="4" height="1" fill="#0000ff"/>
<rect x="789" y="96" width="1" height="99" fill="#0000ff"/>
<rect x="791" y="96" width="2" height="99" fill="#0000ff"/>
<rect x="796" y="96" width="2" height="1" fill="#0000ff"/>
<rect x="796" y="96" width="2" height="99" fill="#0000ff"/>
<rect x="804" y="96" width="4" height="1" fill="#0000ff"/>
<rect x="804" y="96" width="2" height="99" fill="#0000ff"/>
<rect x="807" y="96" width="1" height="99" fill="#0000ff"/>
<rect x="811" y="96" width="2" height="1" fill="#0000ff"/>
<rect x="811" y="96" width="2" height="99" fill="#0000ff"/>
<rect x="819" y="96" width="4" height="1" fill="#0000ff"/>
<rect x="819" y="96" width="2" height="99" fill="#0000ff"/>
<rect x="822" y="96" width="1" height="99" fill="#0000ff"/>
<rect x="826" y="96" width="2" height="1" fill="#0000ff"/>
<rect x="826" y="96" width="2" height="99" fill="#0000ff"/>
<rect x="834" y="96" width="2" height="1" fill="#0000ff"/>
<rect x="834" y="96" width="2" height="99" fill="#0000ff"/>
<rect x="841" y="96" width="2" height="1" fill="#0000ff"/>
<rect x="841" y="96" width="2" height="99" fill="#0000ff"/>
<rect x="849" y="96" width="4" height="1" fill="#0000ff"/>
<rect x="849" y="96" width="2" height="99" fill="#0000ff"/>
<rect x="852" y="96" width="1" height="99" fill="#0000ff"/>
<rect x="856" y="96" width="2" height="1" fill="#0000ff"/>
<rect x="856" y="96" width="2" height="99" fill="#0000ff"/>
<rect x="864" y="96" width="4" height="1" fill="#0000ff"/>
<rect x="864" y="96" width="2" height="99" fill="#0000ff"/>
<rect x="867" y="96" width="1" height="99" fill="#0000ff"/>
<rect x="871" y="96" width="2" height="1" fill="#0000ff"/>
<rect x="871" y="96" width="2" height="99" fill="#0000ff"/>
<rect x="879" y="96" width="4" height="1" fill="#0000ff"/>
<rect x="879" y="96" width="2" height="99" fill="#0000ff"/>
<rect x="882" y="96" width="1" height="99" fill="#0000ff"/>
<rect x="886" y="96" width="2" height="1" fill="#0000ff"/>
<rect x="886" y="96" width="2" height="99" fill="#0000ff"/>
<rect x="894" y="96" width="3" height="1" fill="#0000ff"/>
<rect x="894" y="96" width="3" height="99" fill="#0000ff"/>
<rect x="901" y="96" width="2" height="1" fill="#0000ff"/>
<rect x="901" y="96" width="2" height="99" fill="#0000ff"/>
<rect x="909" y="96" width="3" height="1" fill="#0000ff"/>
<rect x="909" y="96" width="3" height="99" fill="#0000ff"/>
<rect x="915" y="96" width="3" height="1" fill="#0000ff"/>
<rect x="915" y="96" width="1" height="99" fill="#0000ff"/>
<rect x="917" y="96" width="1" height="99" fill="#0000ff"/>
<rect x="924" y="96" width="3" height="1" fill="#0000ff"/>
<rect x="924" y="96" width="3" height="99" fill="#0000ff"/>
<rect x="930" y="96" width="3" height="1" fill="#0000ff"/>
<rect x="930" y="96" width="1" height="99" fill="#0000ff"/>
<rect x="932" y="96" width="1" height="99" fill="#0000ff"/>
<rect x="939" y="96" width="3" height="1" fill="#0000ff"/>
<rect x="939" y="96" width="3" height="99" fill="#0000ff"/>
<rect x="945" y="96" width="3" height="1" fill="#0000ff"/>
<rect x="945" y="96" width="1" height="99" fill="#0000ff"/>
<rect x="947" y="96" width="1" height="99" fill="#0000ff"/>
<rect x="954" y="96" width="3" height="1" fill="#0000ff"/>
<rect x="954" y="96" width="3" height="99" fill="#0000ff"/>
<rect x="960" y="96" width="3" height="1" fill="#0000ff"/>
<rect x="960" y="96" width="1" height="99" fill="#0000ff"/>
<rect x="962" y="96" width="1" height="99" fill="#0000ff"/>
<rect x="969" y="96" width="3" height="1" fill="#0000ff"/>
<rect x="969" y="96" width="3" height="99" fill="#0000ff"/>
<rect x="975" y="96" width="3" height="1" fill="#0000ff"/>
<rect x="975" y="96" width="1" height="99" fill="#0000ff"/>
<rect x="977" y="96" width="1" height="99" fill="#0000ff"/>
<rect x="984" y="96" width="3" height="1" fill="#0000ff"/>
<rect x="984" y="96" width="3" height="99" fill="#0000ff"/>
<rect x="580" y="315" width="404" height="1" fill="#a0a0a0"/>
<rect x="589" y="312" width="1" height="4" fill="#a0a0a0"/>
<rect x="604" y="312" width="1" height="4" fill="#a0a0a0"/>
<rect x="619" y="312" width="1" height="4" fill="#a0a0a0"/>
<rect x="634" y="312" width="1" height="4" fill="#a0a0a0"/>
<rect x="649" y="312" width="1" height="4" fill="#a0a0a0"/>
<rect x="664" y="312" width="1" height="4" fill="#a0a0a0"/>
<rect x="679" y="312" width="1" height="4" fill="#a0a0a0"/>
<rect x="694" y="312" width="1" height="4" fill="#a0a0a0"/>
<rect x="709" y="312" width="1" height="4" fill="#a0a0a0"/>
<rect x="723" y="312" width="1" height="4" fill="#a0a0a0"/>
<rect x="738" y="312" width="1" height="4" fill="#a0a0a0"/>
<rect x="753" y="312" width="1" height="4" fill="#a0a0a0"/>
<rect x="768" y="312" width="1" height="4" fill="#a0a0a0"/>
<rect x="783" y="312" width="1" height="4" fill="#a0a0a0"/>
<rect x="798" y="312" width="1" height="4" fill="#a0a0a0"/>
<rect x="813" y="312" width="1" height="4" fill="#a0a0a0"/>
<rect x="828" y="312" width="1" height="4" fill="#a0a0a0"/>
<rect x="843" y="312" width="1" height="4" fill="#a0a0a0"/>
<rect x="858" y="312" width="1" height="4" fill="#a0a0a0"/>
<rect x="873" y="312" width="1" height="4" fill="#a0a0a0"/>
<rect x="888" y="312" width="1" height="4" fill="#a0a0a0"/>
<rect x="903" y="312" width="1" height="4" fill="#a0a0a0"/>
<rect x="918" y="312" width="1" height="4" fill="#a0a0a0"/>
<rect x="933" y="312" width="1" height="4" fill="#a0a0a0"/>
<rect x="948" y="312" width="1" height="4" fill="#a0a0a0"/>
<rect x="963" y="312" width="1" height="4" fill="#a0a0a0"/>
<rect x="978" y="312" width="1" height="4" fill="#a0a0a0"/>
<rect x="580" y="308" width="1" height="8" fill="#a0a0a0"/>
<rect x="595" y="308" width="1" height="8" fill="#a0a0a0"/>
<rect x="610" y="308" width="1" height="8" fill="#a0a0a0"/>
<rect x="625" y="308" width="1" height="8" fill="#a0a0a0"/>
<rect x="640" y="308" width="1" height="8" fill="#a0a0a0"/>
<rect x="655" y="308" width="1" height="8" fill="#a0a0a0"/>
<rect x="670" y="308" width="1" height="8" fill="#a0a0a0"/>
<rect x="685" y="308" width="1" height="8" fill="#a0a0a0"/>
<rect x="700" y="308" width="1" height="8" fill="#a0a0a0"/>
<rect x="714" y="308" width="1" height="8" fill="#a0a0a0"/>
<rect x="729" y="308" width="1" height="8" fill="#a0a0a0"/>
<rect x="744" y="308" width="1" height="8" fill="#a0a0a0"/>
<rect x="759" y="308" width="1" height="8" fill="#a0a0a0"/>
<rect x="774" y="308" width="1" height="8" fill="#a0a0a0"/>
<rect x="789" y="308" width="1" height="8" fill="#a0a0a0"/>
<rect x="804" y="308" width="1" height="8" fill="#a0a0a0"/>
<rect x="819" y="308" width="1" height="8" fill="#a0a0a0"/>
<rect x="834" y="308" width="1" height="8" fill="#a0a0a0"/>
<rect x="849" y="308" width="1" height="8" fill="#a0a0a0"/>
<rect x="864" y="308" width="1" height="8" fill="#a0a0a0"/>
<rect x="879" y="308" width="1" height="8" fill="#a0a0a0"/>
<rect x="894" y="308" width="1" height="8" fill="#a0a0a0"/>
<rect x="909" y="308" width="1" height="8" fill="#a0a0a0"/>
<rect x="924" y="308" width="1" height="8" fill="#a0a0a0"/>
<rect x="939" y="308" width="1" height="8" fill="#a0a0a0"/>
<rect x="954" y="308" width="1" height="8" fill="#a0a0a0"/>
<rect x="968" y="308" width="1" height="8" fill="#a0a0a0"/>
<rect x="983" y="308" width="1" height="8" fill="#a0a0a0"/>
<rect x="814" y="312" width="1" height="4" fill="#a0a0a0"/>
<rect x="41" y="460" width="450" height="214" fill="#fff"/>
<rect x="98" y="460" width="1" height="214" fill="#c0c0c0"/>
<rect x="156" y="460" width="1" height="214" fill="#c0c0c0"/>
<rect x="214" y="460" width="1" height="214" fill="#c0c0c0"/>
<rect x="273" y="460" width="1" height="214" fill="#c0c0c0"/>
<rect x="331" y="460" width="1" height="214" fill="#c0c0c0"/>
<rect x="390" y="460" width="1" height="214" fill="#c0c0c0"/>
<rect x="448" y="460" width="1" height="214" fill="#c0c0c0"/>
<rect x="41" y="663" width="450" height="1" fill="#c0c0c0"/>
<rect x="41" y="632" width="450" height="1" fill="#c0c0c0"/>
<rect x="41" y="602" width="450" height="1" fill="#c0c0c0"/>
<rect x="41" y="571" width="450" height="1" fill="#c0c0c0"/>
<rect x="41" y="540" width="450" height="1" fill="#c0c0c0"/>
<rect x="41" y="510" width="450" height="1" fill="#c0c0c0"/>
<rect x="41" y="479" width="450" height="1" fill="#c0c0c0"/>
<rect x="41" y="460" width="450" height="1" fill="#000"/>
<rect x="41" y="673" width="450" height="1" fill="#000"/>
<rect x="41" y="460" width="1" height="214" fill="#000"/>
<rect x="490" y="460" width="1" height="214" fill="#000"/>
<rect x="98" y="460" width="1" height="5" fill="#000"/>
<rect x="98" y="669" width="1" height="5" fill="#000"/>
<text x="98.5" y="691.5" text-anchor="middle">0.5</text>
<rect x="156" y="460" width="1" height="5" fill="#000"/>
<rect x="156" y="669" width="1" height="5" fill="#000"/>
<text x="156.5" y="691.5" text-anchor="middle">1.0</text>
<rect x="214" y="460" width="1" height="5" fill="#000"/>
<rect x="214" y="669" width="1" height="5" fill="#000"/>
<text x="214.5" y="691.5" text-anchor="middle">1.5</text>
<rect x="273" y="460" width="1" height="5" fill="#000"/>
<rect x="273" y="669" width="1" height="5" fill="#000"/>
<text x="273.5" y="691.5" text-anchor="middle">2.0</text>
<rect x="331" y="460" width="1" height="5" fill="#000"/>
<rect x="331" y="669" width="1" height="5" fill="#000"/>
<text x="331.5" y="691.5" text-anchor="middle">2.5</text>
<rect x="390" y="460" width="1" height="5" fill="#000"/>
<rect x="390" y="669" width="1" height="5" fill="#000"/>
<text x="390.5" y="691.5" text-anchor="middle">3.0</text>
<rect x="448" y="460" width="1" height="5" fill="#000"/>
<rect x="448" y="669" width="1" height="5" fill="#000"/>
<text x="448.5" y="691.5" text-anchor="middle">3.5</text>
<rect x="41" y="663" width="5" height="1" fill="#000"/>
<rect x="486" y="663" width="5" height="1" fill="#000"/>
<text x="36.5" y="662.5" text-anchor="end">1.6</text>
<rect x="41" y="632" width="5" height="1" fill="#000"/>
<rect x="486" y="632" width="5" height="1" fill="#000"/>
<text x="36.5" y="639.5" text-anchor="end">1.7</text>
<rect x="41" y="602" width="5" height="1" fill="#000"/>
<rect x="486" y="602" width="5" height="1" fill="#000"/>
<text x="36.5" y="609.5" text-anchor="end">1.8</text>
<rect x="41" y="571" width="5" height="1" fill="#000"/>
<rect x="486" y="571" width="5" height="1" fill="#000"/>
<text x="36.5" y="578.5" text-anchor="end">1.9</text>
<rect x="41" y="540" width="5" height="1" fill="#000"/>
<rect x="486" y="540" width="5" height="1" fill="#000"/>
<text x="36.5" y="547.5" text-anchor="end">2.0</text>
<rect x="41" y="510" width="5" height="1" fill="#000"/>
<rect x="486" y="510" width="5" height="1" fill="#000"/>
<text x="36.5" y="517.5" text-anchor="end">2.1</text>
<rect x="41" y="479" width="5" height="1" fill="#000"/>
<rect x="486" y="479" width="5" height="1" fill="#000"/>
<text x="36.5" y="486.5" text-anchor="end">2.2</text>
<text x="265" y="455" text-anchor="middle" style="font-size:14px;font-weight:bold;letter-spacing:0.12px">Latency</text>
<text x="5" y="455">x10</text><text x="23.5" y="447.5" style="font-size:9.5px">-4</text>
<text x="485" y="716">x10</text><text x="503.5" y="707.5" style="font-size:9.5px">-3</text>
<rect x="61" y="588" width="1" height="85" fill="#ff0000"/>
<rect x="59" y="586" width="5" height="5" fill="#ff0000"/>
<rect x="58" y="588" width="1" height="1" fill="#ff0000"/>
<rect x="180" y="529" width="1" height="144" fill="#ff0000"/>
<rect x="178" y="527" width="5" height="5" fill="#ff0000"/>
<rect x="177" y="529" width="1" height="1" fill="#ff0000"/>
<rect x="299" y="470" width="1" height="203" fill="#ff0000"/>
<rect x="297" y="468" width="5" height="5" fill="#ff0000"/>
<rect x="296" y="470" width="1" height="1" fill="#ff0000"/>
<rect x="350" y="664" width="1" height="9" fill="#ff0000"/>
<rect x="348" y="662" width="5" height="5" fill="#ff0000"/>
<rect x="347" y="664" width="1" height="1" fill="#ff0000"/>
<rect x="469" y="605" width="1" height="68" fill="#ff0000"/>
<rect x="467" y="603" width="5" height="5" fill="#ff0000"/>
<rect x="466" y="605" width="1" height="1" fill="#ff0000"/>
<rect x="921" y="52" width="20" height="20" fill="#fff"/>
<clipPath id="hc921"><polygon points="927.5,56.8 934.5,56.8 937.2,64.0 934.5,71.6 928.0,71.6 925.0,64.0"/></clipPath>
<g clip-path="url(#hc921)" shape-rendering="auto">
<rect x="927" y="56.5" width="2.3" height="2.3" fill="#20c090"/>
<rect x="929" y="56.5" width="2.3" height="2.3" fill="#2090d0"/>
<rect x="931" y="56.5" width="2.3" height="2.3" fill="#a060f0"/>
<rect x="933" y="56.5" width="2.3" height="2.3" fill="#c860e0"/>
<rect x="935" y="56.5" width="2.3" height="2.3" fill="#e040c0"/>
<rect x="925" y="58.5" width="2.3" height="2.3" fill="#40d070"/>
<rect x="927" y="58.5" width="2.3" height="2.3" fill="#30d080"/>
<rect x="929" y="58.5" width="2.3" height="2.3" fill="#2070e0"/>
<rect x="931" y="58.5" width="2.3" height="2.3" fill="#6050f0"/>
<rect x="933" y="58.5" width="2.3" height="2.3" fill="#e020c0"/>
<rect x="935" y="58.5" width="2.3" height="2.3" fill="#f020a0"/>
<rect x="925" y="60.5" width="2.3" height="2.3" fill="#e0d040"/>
<rect x="927" y="60.5" width="2.3" height="2.3" fill="#40d0c0"/>
<rect x="929" y="60.5" width="2.3" height="2.3" fill="#30c0d0"/>
<rect x="931" y="60.5" width="2.3" height="2.3" fill="#3050f0"/>
<rect x="933" y="60.5" width="2.3" height="2.3" fill="#a020e0"/>
<rect x="935" y="60.5" width="2.3" height="2.3" fill="#e01050"/>
<rect x="925" y="62.5" width="2.3" height="2.3" fill="#e02020"/>
<rect x="927" y="62.5" width="2.3" height="2.3" fill="#f0e020"/>
<rect x="929" y="62.5" width="2.3" height="2.3" fill="#60f0a0"/>
<rect x="931" y="62.5" width="2.3" height="2.3" fill="#0010ff"/>
<rect x="933" y="62.5" width="2.3" height="2.3" fill="#a020d0"/>
<rect x="935" y="62.5" width="2.3" height="2.3" fill="#c01040"/>
<rect x="925" y="64.5" width="2.3" height="2.3" fill="#e03010"/>
<rect x="927" y="64.5" width="2.3" height="2.3" fill="#ffc000"/>
<rect x="929" y="64.5" width="2.3" height="2.3" fill="#f0e020"/>
<rect x="931" y="64.5" width="2.3" height="2.3" fill="#40f080"/>
<rect x="933" y="64.5" width="2.3" height="2.3" fill="#1040d0"/>
<rect x="935" y="64.5" width="2.3" height="2.3" fill="#7020c0"/>
<rect x="925" y="66.5" width="2.3" height="2.3" fill="#e04020"/>
<rect x="927" y="66.5" width="2.3" height="2.3" fill="#ff8000"/>
<rect x="929" y="66.5" width="2.3" height="2.3" fill="#ffa000"/>
<rect x="931" y="66.5" width="2.3" height="2.3" fill="#20e040"/>
<rect x="933" y="66.5" width="2.3" height="2.3" fill="#20b0a0"/>
<rect x="935" y="66.5" width="2.3" height="2.3" fill="#000090"/>
<rect x="925" y="68.5" width="2.3" height="2.3" fill="#d02020"/>
<rect x="927" y="68.5" width="2.3" height="2.3" fill="#e02020"/>
<rect x="929" y="68.5" width="2.3" height="2.3" fill="#c06000"/>
<rect x="931" y="68.5" width="2.3" height="2.3" fill="#10c030"/>
<rect x="933" y="68.5" width="2.3" height="2.3" fill="#20a060"/>
<rect x="935" y="68.5" width="2.3" height="2.3" fill="#000080"/>
<rect x="927" y="70.5" width="2.3" height="2.3" fill="#a03000"/>
<rect x="929" y="70.5" width="2.3" height="2.3" fill="#a04000"/>
<rect x="931" y="70.5" width="2.3" height="2.3" fill="#008020"/>
<rect x="933" y="70.5" width="2.3" height="2.3" fill="#109070"/>
</g>
<rect x="922" y="64" width="3" height="1" fill="#e4e4e4"/>
<rect x="938" y="64" width="2" height="1" fill="#e4e4e4"/>
<rect x="930" y="53" width="2" height="3" fill="#777"/>
<rect x="923" y="58" width="2" height="3" fill="#888"/>
<rect x="937" y="58" width="3" height="3" fill="#888"/>
<rect x="943.5" y="52.5" width="18" height="18" rx="2" ry="2" fill="#fff" stroke="#000" stroke-width="1.2" shape-rendering="auto"/>
<rect x="946" y="53" width="1" height="17" fill="#b8b8b8"/>
<rect x="959" y="53" width="1" height="17" fill="#d4d4d4"/>
<rect x="947" y="53" width="11" height="7" fill="#d8d8d8"/>
<rect x="950" y="53" width="4" height="7" fill="#707070"/>
<rect x="954" y="54" width="3" height="6" fill="#c4c4c4"/>
<rect x="946" y="62" width="14" height="1" fill="#a8a8a8"/>
<rect x="947" y="64" width="11" height="1" fill="#c4c4c4"/>
<rect x="947" y="66" width="11" height="1" fill="#c4c4c4"/>
<rect x="947" y="68" width="11" height="1" fill="#c4c4c4"/>
<rect x="965" y="52" width="20" height="20" fill="#dcdcf8"/>
<rect x="984" y="52" width="1" height="20" fill="#2f4f4f"/>
<rect x="965" y="71" width="20" height="1" fill="#2f4f4f"/>
<rect x="967" y="54" width="16" height="16" fill="#2f4f4f"/>
<rect x="968" y="55" width="15" height="15" fill="#dcdcf8"/>
<rect x="968" y="55" width="14" height="14" fill="#c4c4c4"/>
<rect x="987" y="52" width="20" height="20" fill="#dcdcf8"/>
<rect x="1006" y="52" width="1" height="20" fill="#2f4f4f"/>
<rect x="987" y="71" width="20" height="1" fill="#2f4f4f"/>
<rect x="989" y="54" width="16" height="16" fill="#2f4f4f"/>
<rect x="990" y="55" width="15" height="15" fill="#dcdcf8"/>
<rect x="990" y="55" width="14" height="14" fill="#c4c4c4"/>
<rect x="1009" y="52" width="20" height="20" fill="#dcdcf8"/>
<rect x="1028" y="52" width="1" height="20" fill="#2f4f4f"/>
<rect x="1009" y="71" width="20" height="1" fill="#2f4f4f"/>
<rect x="1011" y="54" width="16" height="16" fill="#2f4f4f"/>
<rect x="1012" y="55" width="15" height="15" fill="#dcdcf8"/>
<rect x="1012" y="55" width="14" height="14" fill="#c4c4c4"/>
<rect x="1031" y="52" width="20" height="20" fill="#dcdcf8"/>
<rect x="1050" y="52" width="1" height="20" fill="#2f4f4f"/>
<rect x="1031" y="71" width="20" height="1" fill="#2f4f4f"/>
<rect x="1033" y="54" width="16" height="16" fill="#2f4f4f"/>
<rect x="1034" y="55" width="15" height="15" fill="#dcdcf8"/>
<rect x="1034" y="55" width="14" height="14" fill="#c4c4c4"/>
<g shape-rendering="auto"><path d="M971,61 v-3 q0,-1.2 1.2,-1.2 h7.3 v4.2z" fill="#fff"/><rect x="969.7" y="62.2" width="10.3" height="4.6" fill="#b4b4b4" stroke="#2f4f4f" stroke-width="1.2"/><path d="M980.6,61.8 l1.2,-1.2 v5 l-1.2,1.4z" fill="#2f4f4f"/><path d="M980,58.5 h1.6 v1.2" fill="none" stroke="#2f4f4f" stroke-width="1"/></g>
<rect x="971" y="67" width="10" height="1" fill="#000"/>
<rect x="991" y="56" width="3" height="12" fill="#000"/>
<rect x="992" y="57" width="1" height="10" fill="#2e8b57"/>
<path d="M994.6,62 l4.9,-5.2 v2.9 h3.2 v4.6 h-3.2 v2.9z" fill="#0000ff" stroke="#000" stroke-width="1" shape-rendering="auto"/>
<g shape-rendering="auto"><path d="M1015.5,63.5 L1022.5,58.5" stroke="#ff0000" stroke-width="1"/><circle cx="1015.5" cy="63.5" r="2.6" fill="#ff0000"/><circle cx="1022.5" cy="58.5" r="2.6" fill="#ff0000"/></g>
<rect x="1015" y="64" width="1" height="5" fill="#ff0000"/>
<rect x="1022" y="59" width="1" height="10" fill="#ff0000"/>
<g stroke="#2f4f4f" stroke-width="1.1" fill="none" shape-rendering="auto"><path d="M1035.5,56.5 l4,4 M1035.5,60.5 v-4 h4"/><path d="M1046.5,56.5 l-4,4 M1046.5,60.5 v-4 h-4"/><path d="M1035.5,67.5 l4,-4 M1035.5,63.5 v4 h4"/><path d="M1046.5,67.5 l-4,-4 M1046.5,63.5 v4 h-4"/></g>
<rect x="390" y="428" width="20" height="20" fill="#fff"/>
<clipPath id="hc390"><polygon points="396.5,432.8 403.5,432.8 406.2,440.0 403.5,447.6 397.0,447.6 394.0,440.0"/></clipPath>
<g clip-path="url(#hc390)" shape-rendering="auto">
<rect x="396" y="432.5" width="2.3" height="2.3" fill="#20c090"/>
<rect x="398" y="432.5" width="2.3" height="2.3" fill="#2090d0"/>
<rect x="400" y="432.5" width="2.3" height="2.3" fill="#a060f0"/>
<rect x="402" y="432.5" width="2.3" height="2.3" fill="#c860e0"/>
<rect x="404" y="432.5" width="2.3" height="2.3" fill="#e040c0"/>
<rect x="394" y="434.5" width="2.3" height="2.3" fill="#40d070"/>
<rect x="396" y="434.5" width="2.3" height="2.3" fill="#30d080"/>
<rect x="398" y="434.5" width="2.3" height="2.3" fill="#2070e0"/>
<rect x="400" y="434.5" width="2.3" height="2.3" fill="#6050f0"/>
<rect x="402" y="434.5" width="2.3" height="2.3" fill="#e020c0"/>
<rect x="404" y="434.5" width="2.3" height="2.3" fill="#f020a0"/>
<rect x="394" y="436.5" width="2.3" height="2.3" fill="#e0d040"/>
<rect x="396" y="436.5" width="2.3" height="2.3" fill="#40d0c0"/>
<rect x="398" y="436.5" width="2.3" height="2.3" fill="#30c0d0"/>
<rect x="400" y="436.5" width="2.3" height="2.3" fill="#3050f0"/>
<rect x="402" y="436.5" width="2.3" height="2.3" fill="#a020e0"/>
<rect x="404" y="436.5" width="2.3" height="2.3" fill="#e01050"/>
<rect x="394" y="438.5" width="2.3" height="2.3" fill="#e02020"/>
<rect x="396" y="438.5" width="2.3" height="2.3" fill="#f0e020"/>
<rect x="398" y="438.5" width="2.3" height="2.3" fill="#60f0a0"/>
<rect x="400" y="438.5" width="2.3" height="2.3" fill="#0010ff"/>
<rect x="402" y="438.5" width="2.3" height="2.3" fill="#a020d0"/>
<rect x="404" y="438.5" width="2.3" height="2.3" fill="#c01040"/>
<rect x="394" y="440.5" width="2.3" height="2.3" fill="#e03010"/>
<rect x="396" y="440.5" width="2.3" height="2.3" fill="#ffc000"/>
<rect x="398" y="440.5" width="2.3" height="2.3" fill="#f0e020"/>
<rect x="400" y="440.5" width="2.3" height="2.3" fill="#40f080"/>
<rect x="402" y="440.5" width="2.3" height="2.3" fill="#1040d0"/>
<rect x="404" y="440.5" width="2.3" height="2.3" fill="#7020c0"/>
<rect x="394" y="442.5" width="2.3" height="2.3" fill="#e04020"/>
<rect x="396" y="442.5" width="2.3" height="2.3" fill="#ff8000"/>
<rect x="398" y="442.5" width="2.3" height="2.3" fill="#ffa000"/>
<rect x="400" y="442.5" width="2.3" height="2.3" fill="#20e040"/>
<rect x="402" y="442.5" width="2.3" height="2.3" fill="#20b0a0"/>
<rect x="404" y="442.5" width="2.3" height="2.3" fill="#000090"/>
<rect x="394" y="444.5" width="2.3" height="2.3" fill="#d02020"/>
<rect x="396" y="444.5" width="2.3" height="2.3" fill="#e02020"/>
<rect x="398" y="444.5" width="2.3" height="2.3" fill="#c06000"/>
<rect x="400" y="444.5" width="2.3" height="2.3" fill="#10c030"/>
<rect x="402" y="444.5" width="2.3" height="2.3" fill="#20a060"/>
<rect x="404" y="444.5" width="2.3" height="2.3" fill="#000080"/>
<rect x="396" y="446.5" width="2.3" height="2.3" fill="#a03000"/>
<rect x="398" y="446.5" width="2.3" height="2.3" fill="#a04000"/>
<rect x="400" y="446.5" width="2.3" height="2.3" fill="#008020"/>
<rect x="402" y="446.5" width="2.3" height="2.3" fill="#109070"/>
</g>
<rect x="391" y="440" width="3" height="1" fill="#e4e4e4"/>
<rect x="407" y="440" width="2" height="1" fill="#e4e4e4"/>
<rect x="399" y="429" width="2" height="3" fill="#777"/>
<rect x="392" y="434" width="2" height="3" fill="#888"/>
<rect x="406" y="434" width="3" height="3" fill="#888"/>
<rect x="412.5" y="428.5" width="18" height="18" rx="2" ry="2" fill="#fff" stroke="#000" stroke-width="1.2" shape-rendering="auto"/>
<rect x="415" y="429" width="1" height="17" fill="#b8b8b8"/>
<rect x="428" y="429" width="1" height="17" fill="#d4d4d4"/>
<rect x="416" y="429" width="11" height="7" fill="#d8d8d8"/>
<rect x="419" y="429" width="4" height="7" fill="#707070"/>
<rect x="423" y="430" width="3" height="6" fill="#c4c4c4"/>
<rect x="415" y="438" width="14" height="1" fill="#a8a8a8"/>
<rect x="416" y="440" width="11" height="1" fill="#c4c4c4"/>
<rect x="416" y="442" width="11" height="1" fill="#c4c4c4"/>
<rect x="416" y="444" width="11" height="1" fill="#c4c4c4"/>
<rect x="434" y="428" width="20" height="20" fill="#dcdcf8"/>
<rect x="453" y="428" width="1" height="20" fill="#2f4f4f"/>
<rect x="434" y="447" width="20" height="1" fill="#2f4f4f"/>
<rect x="436" y="430" width="16" height="16" fill="#2f4f4f"/>
<rect x="437" y="431" width="15" height="15" fill="#dcdcf8"/>
<rect x="437" y="431" width="14" height="14" fill="#c4c4c4"/>
<rect x="456" y="428" width="20" height="20" fill="#dcdcf8"/>
<rect x="475" y="428" width="1" height="20" fill="#2f4f4f"/>
<rect x="456" y="447" width="20" height="1" fill="#2f4f4f"/>
<rect x="458" y="430" width="16" height="16" fill="#2f4f4f"/>
<rect x="459" y="431" width="15" height="15" fill="#dcdcf8"/>
<rect x="459" y="431" width="14" height="14" fill="#c4c4c4"/>
<rect x="478" y="428" width="20" height="20" fill="#dcdcf8"/>
<rect x="497" y="428" width="1" height="20" fill="#2f4f4f"/>
<rect x="478" y="447" width="20" height="1" fill="#2f4f4f"/>
<rect x="480" y="430" width="16" height="16" fill="#2f4f4f"/>
<rect x="481" y="431" width="15" height="15" fill="#dcdcf8"/>
<rect x="481" y="431" width="14" height="14" fill="#c4c4c4"/>
<rect x="500" y="428" width="20" height="20" fill="#dcdcf8"/>
<rect x="519" y="428" width="1" height="20" fill="#2f4f4f"/>
<rect x="500" y="447" width="20" height="1" fill="#2f4f4f"/>
<rect x="502" y="430" width="16" height="16" fill="#2f4f4f"/>
<rect x="503" y="431" width="15" height="15" fill="#dcdcf8"/>
<rect x="503" y="431" width="14" height="14" fill="#c4c4c4"/>
<g shape-rendering="auto"><path d="M440,437 v-3 q0,-1.2 1.2,-1.2 h7.3 v4.2z" fill="#fff"/><rect x="438.7" y="438.2" width="10.3" height="4.6" fill="#b4b4b4" stroke="#2f4f4f" stroke-width="1.2"/><path d="M449.6,437.8 l1.2,-1.2 v5 l-1.2,1.4z" fill="#2f4f4f"/><path d="M449,434.5 h1.6 v1.2" fill="none" stroke="#2f4f4f" stroke-width="1"/></g>
<rect x="440" y="443" width="10" height="1" fill="#000"/>
<rect x="460" y="432" width="3" height="12" fill="#000"/>
<rect x="461" y="433" width="1" height="10" fill="#2e8b57"/>
<path d="M463.6,438 l4.9,-5.2 v2.9 h3.2 v4.6 h-3.2 v2.9z" fill="#0000ff" stroke="#000" stroke-width="1" shape-rendering="auto"/>
<g shape-rendering="auto"><path d="M484.5,439.5 L491.5,434.5" stroke="#ff0000" stroke-width="1"/><circle cx="484.5" cy="439.5" r="2.6" fill="#ff0000"/><circle cx="491.5" cy="434.5" r="2.6" fill="#ff0000"/></g>
<rect x="484" y="440" width="1" height="5" fill="#ff0000"/>
<rect x="491" y="435" width="1" height="10" fill="#ff0000"/>
<g stroke="#2f4f4f" stroke-width="1.1" fill="none" shape-rendering="auto"><path d="M504.5,432.5 l4,4 M504.5,436.5 v-4 h4"/><path d="M515.5,432.5 l-4,4 M515.5,436.5 v-4 h-4"/><path d="M504.5,443.5 l4,-4 M504.5,439.5 v4 h4"/><path d="M515.5,443.5 l-4,-4 M515.5,439.5 v4 h-4"/></g>
</svg>
<div class="a" style="left:0px;top:362px;width:520px;height:12px;background:linear-gradient(to bottom,rgba(0,0,0,0),rgba(0,0,0,0.10))"></div>
<div class="a" style="left:512px;top:375px;width:10px;height:346px;background:linear-gradient(to right,rgba(0,0,0,0),rgba(0,0,0,0.22))"></div>
<div class="a" style="left:522px;top:364px;width:531px;height:10px;background:linear-gradient(to bottom,rgba(0,0,0,0),rgba(0,0,0,0.12))"></div>
</body></html>
